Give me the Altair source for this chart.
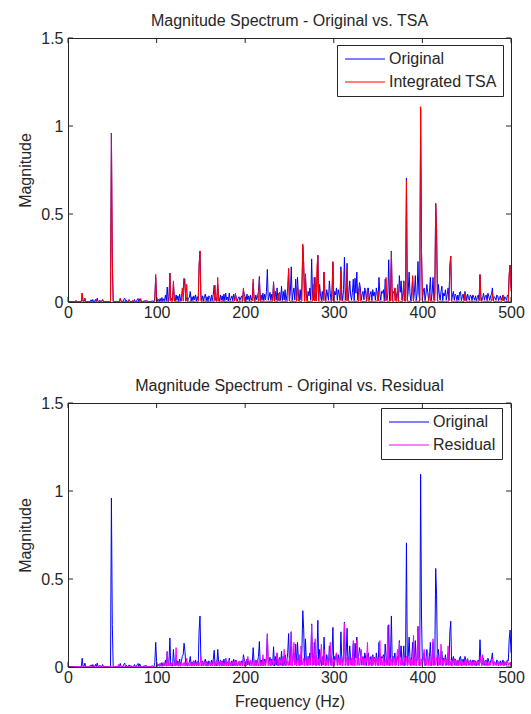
import altair as alt
import pandas as pd

# Frequency bins (Hz), one per Hz from 0 to 500
freq = list(range(0, 501))

# Magnitudes in thousandths (index = Hz)
original_milli = [
    2, 1, 3, 1, 2, 1, 2, 1, 3, 1,          # 0
    2, 1, 2, 1, 3, 2, 50, 3, 2, 22,        # 10
    2, 1, 3, 2, 1, 2, 12, 2, 14, 1,        # 20
    2, 15, 3, 22, 2, 1, 10, 2, 1, 14,      # 30
    2, 1, 3, 2, 1, 2, 3, 1, 4, 960,        # 40
    240, 3, 1, 2, 1, 2, 1, 3, 2, 20,       # 50
    2, 1, 3, 15, 22, 2, 10, 1, 2, 12,      # 60
    2, 1, 3, 1, 2, 14, 2, 1, 12, 20,       # 70
    2, 18, 3, 1, 2, 1, 8, 2, 10, 3,        # 80
    2, 1, 3, 1, 2, 8, 3, 1, 25, 140,       # 90
    30, 6, 15, 4, 20, 5, 25, 6, 18, 8,     # 100
    40, 8, 85, 6, 30, 165, 8, 20, 5, 100,  # 110
    25, 6, 40, 10, 35, 5, 45, 8, 30, 60,   # 120
    70, 135, 90, 8, 25, 5, 20, 28, 60, 6,  # 130
    30, 8, 35, 12, 40, 6, 30, 10, 210, 290,  # 140
    40, 8, 35, 6, 30, 45, 7, 30, 5, 35,    # 150
    25, 6, 40, 8, 45, 95, 10, 25, 6, 100,  # 160
    30, 5, 40, 10, 35, 6, 45, 8, 50, 12,   # 170
    28, 6, 50, 8, 20, 35, 7, 45, 10, 40,   # 180
    25, 6, 20, 30, 8, 25, 35, 6, 70, 40,   # 190
    30, 8, 45, 12, 35, 6, 40, 10, 25, 110,  # 200
    30, 8, 40, 12, 35, 60, 145, 8, 40, 10,  # 210
    50, 8, 45, 12, 60, 185, 10, 30, 55, 8,  # 220
    45, 12, 115, 6, 60, 10, 80, 8, 45, 55,  # 230
    10, 90, 8, 60, 12, 70, 8, 35, 80, 190,  # 240
    10, 60, 200, 8, 50, 80, 12, 130, 6, 140,  # 250
    50, 8, 70, 12, 90, 320, 215, 10, 160, 40,  # 260
    8, 60, 35, 80, 10, 245, 40, 12, 140, 50,  # 270
    8, 70, 265, 10, 100, 40, 8, 60, 12, 170,  # 280
    45, 8, 70, 40, 10, 120, 50, 8, 70, 225,  # 290
    8, 60, 40, 80, 10, 70, 45, 12, 200, 50,  # 300
    8, 70, 255, 10, 80, 220, 8, 50, 120, 40,  # 310
    10, 55, 130, 8, 135, 50, 170, 10, 60, 110,  # 320
    80, 10, 45, 60, 12, 80, 50, 8, 70, 80,  # 330
    10, 45, 60, 8, 70, 35, 55, 10, 80, 45,  # 340
    8, 140, 45, 10, 60, 50, 70, 8, 130, 60,  # 350
    10, 45, 240, 8, 55, 290, 10, 60, 50, 80,  # 360
    10, 45, 60, 8, 150, 55, 120, 10, 45, 120,  # 370
    8, 50, 705, 10, 60, 170, 45, 8, 60, 140,  # 380
    10, 55, 150, 8, 45, 230, 50, 8, 1095, 290,  # 390
    10, 60, 80, 8, 45, 100, 55, 10, 60, 140,  # 400
    8, 50, 140, 10, 45, 560, 410, 8, 100, 45,  # 410
    10, 60, 90, 8, 50, 35, 70, 10, 45, 80,  # 420
    10, 200, 260, 8, 40, 60, 10, 45, 35, 8,  # 430
    40, 10, 55, 60, 8, 30, 45, 10, 60, 40,  # 440
    8, 45, 25, 10, 40, 35, 8, 40, 25, 10,  # 450
    35, 8, 25, 40, 10, 155, 30, 8, 25, 50,  # 460
    10, 35, 40, 8, 50, 30, 10, 35, 45, 80,  # 470
    8, 30, 25, 10, 40, 35, 8, 20, 35, 10,  # 480
    25, 40, 8, 30, 20, 10, 40, 35, 160, 210,  # 490
    80,                                    # 500
]

tsa_milli = [
    2, 2, 3, 2, 2, 3, 2, 2, 3, 10,         # 0
    2, 3, 2, 2, 3, 2, 50, 3, 2, 20,        # 10
    2, 3, 2, 2, 3, 2, 2, 3, 2, 2,          # 20
    3, 2, 2, 12, 2, 3, 2, 2, 3, 15,        # 30
    2, 3, 2, 2, 3, 2, 2, 3, 5, 960,        # 40
    240, 3, 2, 3, 2, 3, 2, 2, 3, 20,       # 50
    2, 3, 2, 3, 2, 3, 2, 3, 2, 15,         # 60
    2, 3, 2, 10, 2, 3, 2, 3, 2, 2,         # 70
    3, 2, 20, 2, 3, 2, 2, 3, 2, 10,        # 80
    2, 3, 2, 2, 3, 2, 3, 2, 4, 157,        # 90
    5, 3, 4, 2, 5, 3, 4, 2, 5, 3,          # 100
    4, 3, 6, 2, 4, 163, 5, 3, 4, 120,      # 110
    4, 3, 6, 2, 5, 3, 4, 2, 5, 80,         # 120
    4, 120, 130, 3, 100, 3, 5, 2, 4, 3,    # 130
    5, 3, 4, 2, 5, 3, 4, 3, 210, 290,      # 140
    5, 3, 4, 2, 5, 3, 4, 2, 5, 3,          # 150
    4, 2, 5, 3, 4, 3, 95, 4, 3, 140,       # 160
    4, 3, 5, 2, 4, 3, 5, 2, 4, 3,          # 170
    5, 2, 4, 3, 5, 3, 4, 2, 5, 50,         # 180
    4, 3, 5, 2, 4, 3, 5, 2, 80, 4,         # 190
    5, 3, 4, 2, 5, 3, 4, 2, 5, 130,        # 200
    4, 3, 5, 2, 4, 3, 130, 3, 4, 2,        # 210
    5, 3, 4, 3, 5, 3, 4, 2, 5, 3,          # 220
    4, 3, 110, 3, 5, 2, 4, 3, 50, 3,       # 230
    5, 3, 4, 2, 5, 3, 4, 2, 5, 190,        # 240
    4, 3, 5, 2, 4, 3, 5, 3, 4, 100,        # 250
    5, 3, 4, 2, 5, 330, 220, 3, 160, 4,    # 260
    5, 3, 4, 2, 5, 3, 4, 100, 5, 140,      # 270
    4, 200, 265, 3, 5, 2, 4, 3, 5, 170,    # 280
    4, 3, 5, 2, 4, 3, 5, 2, 4, 230,        # 290
    5, 3, 4, 2, 5, 3, 4, 3, 180, 4,        # 300
    5, 2, 4, 3, 5, 190, 4, 3, 5, 2,        # 310
    4, 3, 5, 2, 4, 3, 5, 2, 4, 100,        # 320
    5, 3, 4, 2, 5, 3, 4, 2, 80, 3,         # 330
    5, 2, 4, 3, 5, 3, 4, 2, 5, 3,          # 340
    60, 3, 5, 2, 4, 3, 5, 2, 4, 140,       # 350
    5, 3, 4, 2, 5, 286, 4, 3, 5, 80,       # 360
    4, 3, 100, 2, 5, 3, 4, 2, 5, 120,      # 370
    4, 3, 690, 3, 5, 2, 4, 3, 5, 150,      # 380
    4, 3, 5, 2, 4, 3, 5, 2, 1110, 290,     # 390
    5, 3, 4, 2, 5, 3, 4, 2, 60, 3,         # 400
    4, 3, 5, 2, 4, 558, 410, 3, 5, 2,      # 410
    4, 3, 5, 2, 4, 3, 5, 2, 4, 3,          # 420
    5, 200, 260, 3, 4, 2, 5, 3, 4, 2,      # 430
    5, 3, 4, 2, 5, 3, 4, 2, 50, 3,         # 440
    5, 2, 4, 3, 5, 3, 4, 2, 5, 3,          # 450
    4, 2, 5, 3, 4, 157, 4, 3, 5, 2,        # 460
    4, 3, 5, 2, 4, 3, 5, 2, 4, 50,         # 470
    5, 3, 4, 2, 5, 3, 4, 2, 5, 3,          # 480
    4, 40, 5, 2, 4, 3, 5, 2, 157, 210,     # 490
    60,                                    # 500
]

residual_milli = [
    1, 1, 2, 1, 1, 2, 1, 1, 2, 1,          # 0
    1, 2, 1, 1, 2, 1, 3, 1, 2, 1,          # 10
    1, 2, 1, 1, 2, 10, 1, 2, 1, 1,         # 20
    2, 1, 1, 2, 1, 1, 2, 1, 1, 2,          # 30
    1, 1, 2, 1, 1, 2, 1, 1, 2, 3,          # 40
    2, 1, 2, 1, 1, 2, 1, 15, 2, 1,         # 50
    2, 1, 1, 2, 1, 10, 2, 1, 1, 2,         # 60
    1, 10, 2, 1, 2, 1, 1, 2, 1, 2,         # 70
    1, 2, 1, 1, 2, 1, 2, 1, 2, 1,          # 80
    1, 2, 1, 2, 1, 2, 1, 2, 3, 5,          # 90
    10, 3, 15, 5, 20, 4, 12, 3, 25, 6,     # 100
    15, 4, 90, 6, 25, 5, 18, 4, 30, 8,     # 110
    20, 5, 110, 6, 25, 5, 30, 4, 20, 8,    # 120
    25, 5, 30, 6, 50, 5, 20, 8, 30, 5,     # 130
    25, 6, 35, 5, 20, 8, 30, 5, 25, 6,     # 140
    60, 5, 30, 8, 25, 6, 35, 5, 20, 8,     # 150
    30, 5, 25, 8, 35, 6, 30, 5, 40, 6,     # 160
    25, 8, 35, 5, 30, 6, 25, 8, 50, 5,     # 170
    30, 8, 40, 6, 25, 5, 35, 8, 30, 6,     # 180
    40, 5, 30, 8, 35, 6, 25, 8, 50, 6,     # 190
    30, 8, 35, 60, 25, 6, 40, 8, 30, 5,    # 200
    35, 8, 40, 6, 30, 5, 45, 8, 30, 6,     # 210
    70, 8, 35, 6, 40, 190, 8, 35, 6, 40,   # 220
    8, 45, 6, 35, 10, 40, 80, 6, 45, 8,    # 230
    40, 10, 50, 6, 100, 8, 45, 10, 35, 8,  # 240
    50, 10, 200, 8, 40, 140, 10, 45, 8, 50,  # 250
    10, 55, 8, 120, 45, 10, 50, 8, 60, 10,   # 260
    45, 8, 55, 10, 40, 240, 8, 50, 12, 160,  # 270
    8, 55, 10, 45, 8, 60, 130, 10, 50, 100,  # 280
    8, 45, 10, 55, 8, 40, 140, 10, 50, 8,    # 290
    45, 10, 55, 80, 8, 50, 10, 45, 8, 60,    # 300
    10, 45, 250, 8, 55, 10, 45, 8, 60, 10,   # 310
    50, 8, 150, 10, 45, 8, 150, 10, 55, 8,   # 320
    45, 100, 10, 55, 8, 50, 10, 45, 140, 8,  # 330
    55, 10, 45, 8, 60, 10, 50, 8, 45, 10,    # 340
    55, 8, 150, 10, 50, 8, 60, 10, 45, 8,    # 350
    55, 235, 8, 50, 10, 45, 8, 60, 10, 50,   # 360
    8, 55, 100, 10, 140, 8, 50, 10, 45, 8,   # 370
    55, 10, 60, 8, 45, 10, 50, 8, 45, 10,    # 380
    180, 8, 50, 10, 45, 230, 8, 55, 10, 45,  # 390
    8, 55, 100, 10, 45, 8, 80, 10, 50, 8,    # 400
    45, 10, 160, 8, 55, 10, 45, 80, 8, 50,   # 410
    10, 130, 8, 45, 10, 50, 8, 45, 10, 120,  # 420
    8, 45, 10, 40, 8, 45, 50, 8, 35, 10,     # 430
    40, 8, 35, 10, 45, 8, 30, 10, 40, 8,     # 440
    35, 50, 8, 30, 10, 35, 8, 30, 10, 40,    # 450
    8, 30, 10, 35, 8, 30, 60, 8, 70, 10,     # 460
    30, 8, 35, 10, 25, 8, 30, 10, 35, 50,    # 470
    8, 30, 10, 25, 8, 30, 10, 25, 8, 30,     # 480
    10, 25, 8, 30, 10, 35, 40, 8, 25, 10,    # 490
    30,                                      # 500
]

x_ticks = [0, 100, 200, 300, 400, 500]
y_ticks = [0, 0.5, 1, 1.5]

series_names = ["Original", "Integrated TSA", "Residual"]
series_colors = ["#0000ff", "#ff0000", "#ff00ff"]
titles = ["Magnitude Spectrum - Original vs. TSA",
          "Magnitude Spectrum - Original vs. Residual"]

df = pd.DataFrame({
    "freq": freq,
    "original": [v / 1000 for v in original_milli],
    "tsa": [v / 1000 for v in tsa_milli],
    "residual": [v / 1000 for v in residual_milli],
})
xt_df = pd.DataFrame({"freq": x_ticks})
yt_df = pd.DataFrame({"original": y_ticks})

FONT = "Liberation Sans"
TXT = "#262626"
W, H = 443, 264


def panel(title, field, name, color, xtitle, lx, ly):
    xsc = alt.Scale(domain=[0, 500], nice=False)
    ysc = alt.Scale(domain=[0, 1.5], nice=False)
    xaxis = alt.Axis(values=x_ticks, title=xtitle, labelFlush=False,
                     labelPadding=2, titlePadding=8, format="d")
    yaxis = alt.Axis(values=y_ticks, title="Magnitude", format=".1~f",
                     labelPadding=5, titlePadding=7)
    cscale = alt.Scale(domain=["Original", name], range=["#0000ff", color])
    legend = alt.Legend(orient="none", legendX=lx, legendY=ly, title=None,
                        symbolType="M-1.2,0H6.8", symbolSize=100,
                        symbolStrokeWidth=1, labelFontSize=16, labelFont=FONT,
                        labelColor=TXT, strokeColor=TXT, fillColor="white",
                        padding=6, rowPadding=7, labelOffset=30,
                        symbolOpacity=1, cornerRadius=0)
    base = alt.Chart(df)
    l1 = base.transform_calculate(series="'Original'").mark_line(
        strokeWidth=1, clip=True).encode(
        x=alt.X("freq:Q", scale=xsc, axis=xaxis),
        y=alt.Y("original:Q", scale=ysc, axis=yaxis),
        color=alt.Color("series:N", scale=cscale, legend=legend),
    )
    l2 = base.transform_calculate(series=f"'{name}'").mark_line(
        strokeWidth=1, clip=True).encode(
        x=alt.X("freq:Q"),
        y=alt.Y(f"{field}:Q"),
        color=alt.Color("series:N"),
    )
    tx_bot = alt.Chart(xt_df).mark_rule(color=TXT).encode(
        x=alt.X("freq:Q"), y=alt.value(H), y2=alt.value(H - 5))
    tx_top = alt.Chart(xt_df).mark_rule(color=TXT).encode(
        x=alt.X("freq:Q"), y=alt.value(0), y2=alt.value(5))
    ty_l = alt.Chart(yt_df).mark_rule(color=TXT).encode(
        y=alt.Y("original:Q"), x=alt.value(0), x2=alt.value(5))
    ty_r = alt.Chart(yt_df).mark_rule(color=TXT).encode(
        y=alt.Y("original:Q"), x=alt.value(W), x2=alt.value(W - 5))
    return alt.layer(l1, l2, tx_bot, tx_top, ty_l, ty_r).properties(
        width=W, height=H,
        title=alt.Title(title, fontSize=16, fontWeight="normal", font=FONT,
                        color=TXT, offset=1, frame="group"),
    )


top = panel(titles[0], "tsa", series_names[1], series_colors[1], None, 269, 7)
bottom = panel(titles[1], "residual", series_names[2], series_colors[2],
               "Frequency (Hz)", 313, 5)

chart = alt.vconcat(top, bottom, spacing=56).resolve_scale(
    color="independent"
).properties(
    padding={"left": 17, "top": 12, "right": 5, "bottom": 2},
    background="white",
).configure_view(
    stroke=TXT, strokeWidth=1
).configure_axis(
    labelFont=FONT, labelFontSize=16, labelColor=TXT,
    titleFont=FONT, titleFontSize=16, titleFontWeight="normal", titleColor=TXT,
    domain=False, ticks=False, grid=False,
)

chart.save("out.html", embed_options={"renderer": "svg", "actions": False})
